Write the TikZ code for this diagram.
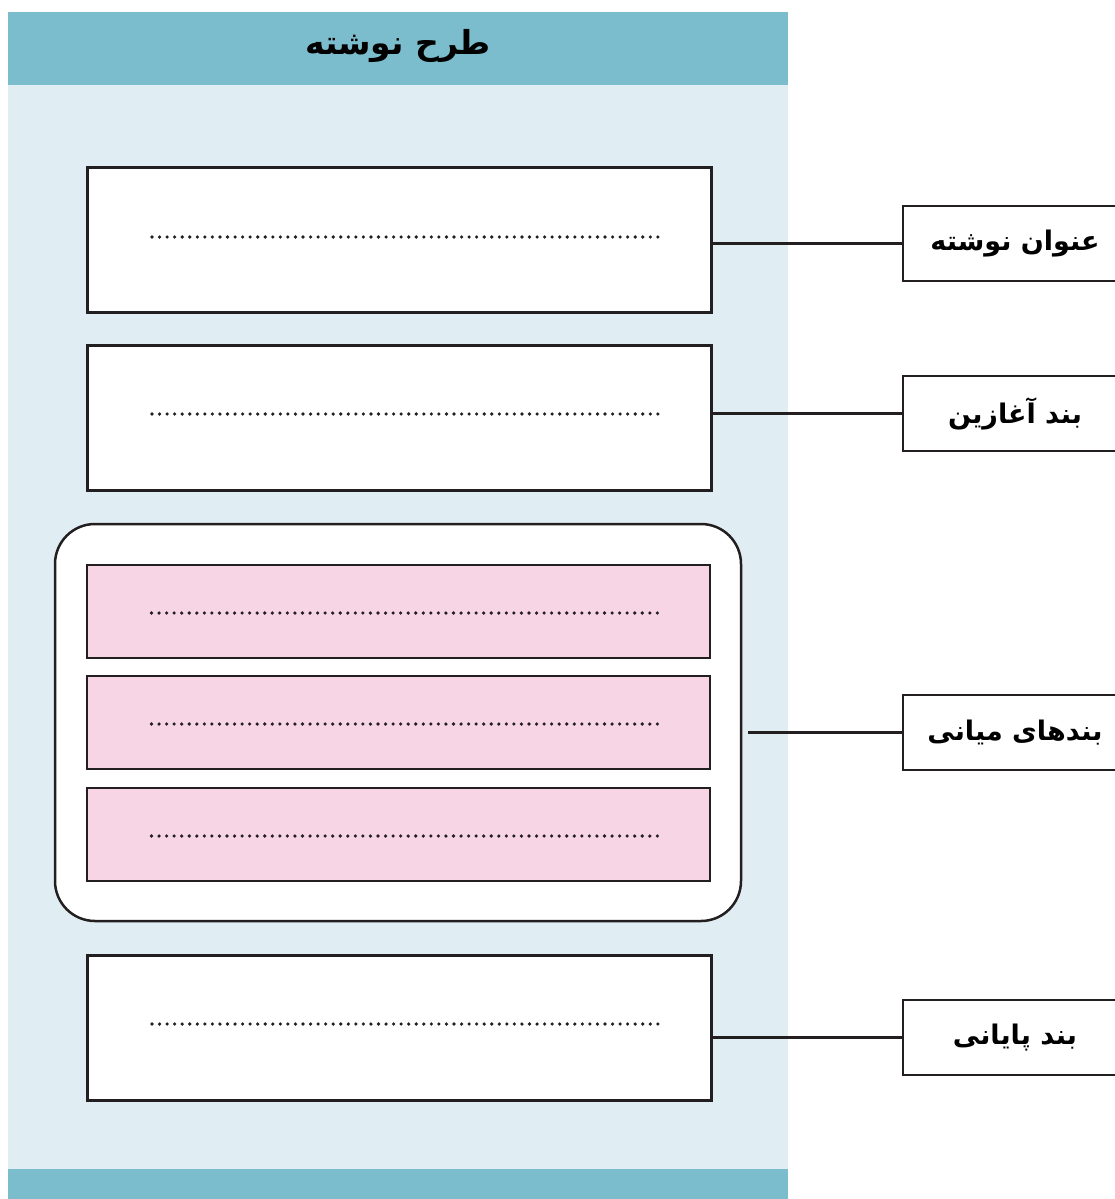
\documentclass[tikz,border=0pt]{standalone}
\usepackage{fontspec}
\TeXXeTstate=1
\newfontfamily\arabicfont[Script=Arabic]{DejaVu Sans}
\definecolor{headbg}{HTML}{7BBDCD}
\definecolor{panelbg}{HTML}{E0EEF3}
\definecolor{pinkbg}{HTML}{F8D5E5}
\definecolor{ink}{HTML}{231F20}
\tikzset{
  whitebox/.style={draw=ink, fill=white, line width=3pt, minimum width=624pt, minimum height=145pt, inner sep=0pt},
  pinkbox/.style={draw=ink, fill=pinkbg, line width=2.5pt, minimum width=623pt, minimum height=93pt, inner sep=0pt},
  groupbox/.style={draw=ink, fill=white, line width=2.5pt, rounded corners=40pt, minimum width=686pt, minimum height=397pt, inner sep=0pt},
  labelbox/.style={draw=ink, fill=white, line width=2.5pt, minimum width=224pt, minimum height=75pt, inner sep=0pt, font=\arabicfont\bfseries\fontsize{27}{32}\selectfont},
  dotline/.style={draw=ink, line width=3.6pt, line cap=round, dash pattern=on 0pt off 7.55pt},
  conn/.style={draw=ink, line width=2.2pt}
}
\begin{document}
\begin{tikzpicture}[x=1pt,y=-1pt]
\useasboundingbox (0,0) rectangle (1115,1199);
\fill[panelbg] (8,12) rectangle (788,1199);
\fill[headbg] (8,12) rectangle (788,85);
\fill[headbg] (8,1169) rectangle (788,1199);
\node[font=\arabicfont\bfseries\fontsize{33}{38}\selectfont] (title) at (398,46) {\beginR طرح نوشته\endR};

\node[whitebox] (b1) at (399,239.5) {};
\node[whitebox] (b2) at (399,418) {};
\node[groupbox] (mid) at (398,722.5) {};
\node[pinkbox] (p1) at (398.5,611.5) {};
\node[pinkbox] (p2) at (398.5,722.5) {};
\node[pinkbox] (p3) at (398.5,834.5) {};
\node[whitebox] (b4) at (399,1027.5) {};

\foreach \b/\dy in {b1/-2.5,b2/-4,p1/1.5,p2/1.5,p3/1.5,b4/-3.5}{
  \draw[dotline] ([xshift=-247pt,yshift=-\dy pt]\b.center) -- ([xshift=264pt,yshift=-\dy pt]\b.center);
}

\node[labelbox] (l1) at (1015,243.5) {\beginR عنوان نوشته\endR};
\node[labelbox] (l2) at (1015,413.5) {\beginR بند آغازین\endR};
\node[labelbox] (l3) at (1015,732.5) {\beginR بندهای میانی\endR};
\node[labelbox] (l4) at (1015,1037.5) {\beginR بند پایانی\endR};

\draw[conn] (b1.east |- l1.west) -- (l1.west);
\draw[conn] (b2.east |- l2.west) -- (l2.west);
\draw[conn] ([xshift=6pt]mid.east |- l3.west) -- (l3.west);
\draw[conn] (b4.east |- l4.west) -- (l4.west);
\end{tikzpicture}
\end{document}
